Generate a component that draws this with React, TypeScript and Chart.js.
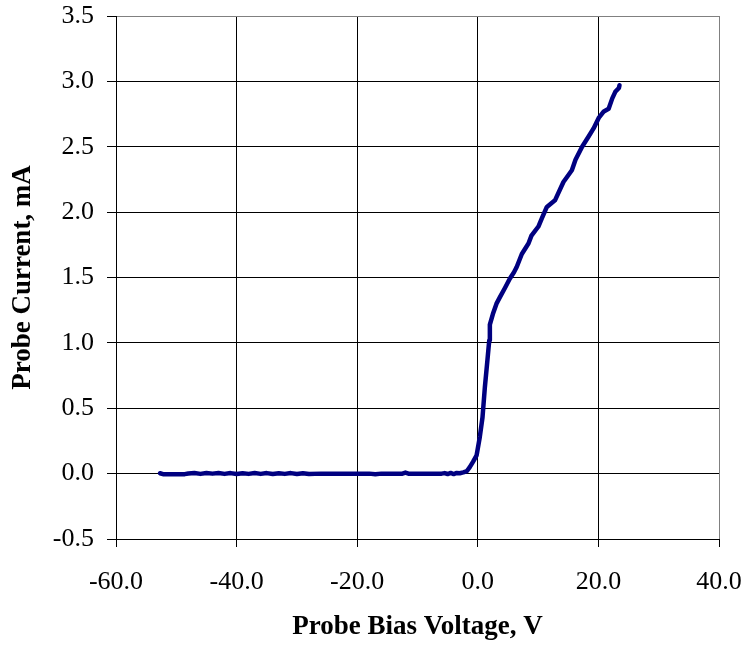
import React, { useEffect, useRef } from "react";
import { Chart, registerables } from "chart.js";

Chart.register(...registerables);

// Probe bias voltage (V)
const biasVoltage: number[] = [
  -52.7, -52.2, -51.5, -50.5, -49.5, -48.6, -48.0, -47.0, -46.0, -45.0,
  -44.0, -43.0, -42.0, -41.0, -40.0, -39.0, -38.0, -37.0, -36.0, -35.0,
  -34.0, -33.0, -32.0, -31.0, -30.0, -29.0, -28.0, -26.0, -24.0, -22.0,
  -20.0, -18.0, -17.0, -16.0, -14.0, -12.5, -12.0, -11.5, -10.0, -8.0,
  -6.0, -5.5, -5.0, -4.5, -4.0, -3.5, -3.0, -2.4, -1.8, -1.33,
  -0.8, -0.2, 0.33, 0.78, 1.17, 1.6, 1.9, 2.0, 2.5, 3.1,
  3.67, 4.5, 5.3, 6.0, 6.45, 7.3, 8.4, 8.9, 10.05, 10.6,
  11.45, 12.8, 14.2, 15.6, 16.2, 17.3, 18.4, 19.2, 20.05, 20.9,
  21.7, 22.3, 22.8, 23.4, 23.5,
];

// Probe current (mA)
const probeCurrent: number[] = [
  0.003, -0.004, -0.005, -0.005, -0.005, -0.004, 0.001, 0.004, -0.002, 0.004,
  0.0, 0.004, -0.002, 0.004, -0.003, 0.003, -0.002, 0.004, -0.002, 0.004,
  -0.003, 0.003, -0.002, 0.004, -0.003, 0.003, -0.003, 0.0, 0.0, 0.0,
  0.0, 0.0, -0.005, 0.0, 0.0, 0.0, 0.008, 0.0, 0.0, 0.0,
  0.0, 0.004, -0.003, 0.005, -0.003, 0.005, 0.003, 0.01, 0.02, 0.05,
  0.09, 0.14, 0.28, 0.43, 0.66, 0.87, 1.02, 1.14, 1.22, 1.30,
  1.35, 1.42, 1.49, 1.54, 1.58, 1.68, 1.76, 1.82, 1.89, 1.95,
  2.04, 2.09, 2.23, 2.32, 2.40, 2.50, 2.58, 2.64, 2.72, 2.77,
  2.79, 2.87, 2.92, 2.95, 2.97,
];

const xTitle = "Probe Bias Voltage, V";
const yTitle = "Probe Current, mA";

const FONT = '"Liberation Serif", "Times New Roman", serif';

export default function App() {
  const canvasRef = useRef<HTMLCanvasElement | null>(null);

  useEffect(() => {
    const canvas = canvasRef.current;
    if (!canvas) return;
    const points = biasVoltage.map((v, i) => ({ x: v, y: probeCurrent[i] }));
    const chart = new Chart(canvas, {
      type: "line",
      data: {
        datasets: [
          {
            data: points,
            borderColor: "#000080",
            borderWidth: 4.5,
            pointRadius: 0,
            tension: 0,
            fill: false,
            borderCapStyle: "round",
            borderJoinStyle: "round",
          },
        ],
      },
      options: {
        animation: false,
        responsive: false,
        devicePixelRatio: 1,
        layout: { padding: { top: 16, right: 27, left: 0, bottom: 0 } },
        plugins: {
          legend: { display: false },
          tooltip: { enabled: false },
        },
        scales: {
          x: {
            type: "linear",
            min: -60,
            max: 40,
            afterFit: (scale: any) => {
              scale.height = 106;
              scale.paddingLeft = 0;
              scale.paddingRight = 0;
            },
            ticks: {
              stepSize: 20,
              color: "#000",
              padding: 20,
              font: { family: FONT, size: 26 },
              callback: (v: any) => Number(v).toFixed(1),
            },
            grid: {
              color: (ctx: any) => (ctx.tick && ctx.tick.value === 40 ? "#808080" : "#000"),
              tickLength: 8,
              tickColor: "#000",
            },
            border: { display: true, color: "#000", width: 1 },
            title: {
              display: true,
              text: xTitle,
              color: "#000",
              font: { family: FONT, size: 27, weight: "bold" },
              padding: { top: 0, bottom: 2 },
            },
          },
          y: {
            type: "linear",
            min: -0.5,
            max: 3.5,
            afterFit: (scale: any) => {
              scale.width = 116;
              scale.paddingTop = 0;
              scale.paddingBottom = 0;
            },
            ticks: {
              stepSize: 0.5,
              color: "#000",
              padding: 13,
              font: { family: FONT, size: 26 },
              callback: (v: any) => Number(v).toFixed(1),
            },
            grid: {
              color: (ctx: any) => (ctx.tick && ctx.tick.value === 3.5 ? "#808080" : "#000"),
              tickLength: 9,
              tickColor: "#000",
            },
            border: { display: true, color: "#000", width: 1 },
            title: {
              display: true,
              text: yTitle,
              color: "#000",
              font: { family: FONT, size: 27, weight: "bold" },
              padding: { top: 7, bottom: 0 },
            },
          },
        },
      },
    });
    return () => chart.destroy();
  }, []);

  return (
    <div style={{ position: "fixed", left: 0, top: 0, width: 746, height: 645, background: "#fff" }}>
      <canvas ref={canvasRef} width={746} height={645} />
    </div>
  );
}
